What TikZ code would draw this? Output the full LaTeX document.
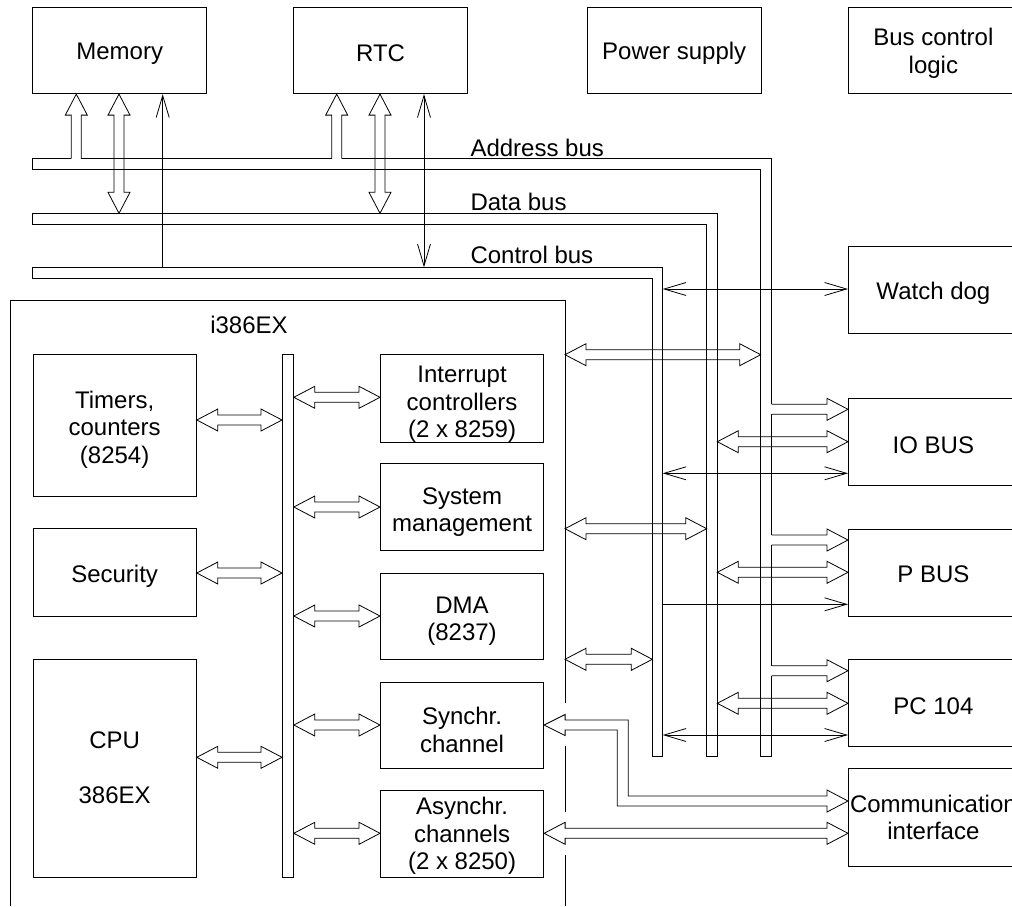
\documentclass[tikz,border=0pt]{standalone}
\usepackage{fontspec}
\setmainfont{Liberation Sans}
\usetikzlibrary{arrows.meta,calc}
\def\HL{21pt}\def\HW{11pt}\def\SW{5pt}
% horizontal hollow double arrow: tips at x of #1 and #2, at pixel row #3
\newcommand\hdbl[3]{%
 \draw[ln] let \p1=(#1), \p2=(#2) in
  (\x1,-#3pt) -- ({\x1+\HL},{-#3pt+\HW}) -- ({\x1+\HL},{-#3pt+\SW}) -- ({\x2-\HL},{-#3pt+\SW}) -- ({\x2-\HL},{-#3pt+\HW}) -- (\x2,-#3pt) -- ({\x2-\HL},{-#3pt-\HW}) -- ({\x2-\HL},{-#3pt-\SW}) -- ({\x1+\HL},{-#3pt-\SW}) -- ({\x1+\HL},{-#3pt-\HW}) -- cycle;}
% horizontal hollow single arrow: open tail at x of #1, tip at x of #2
\newcommand\hsgl[3]{%
 \draw[ln] let \p1=(#1), \p2=(#2) in
  (\x1,{-#3pt+\SW}) -- ({\x2-\HL},{-#3pt+\SW}) -- ({\x2-\HL},{-#3pt+\HW}) -- (\x2,-#3pt) -- ({\x2-\HL},{-#3pt-\HW}) -- ({\x2-\HL},{-#3pt-\SW}) -- (\x1,{-#3pt-\SW});}
% vertical hollow single arrow: open tail at y of #1, tip (up) at y of #2, column #3
\newcommand\vsgl[3]{%
 \draw[ln] let \p1=(#1), \p2=(#2) in
  ({#3pt-\SW},\y1) -- ({#3pt-\SW},{\y2-\HL}) -- ({#3pt-\HW},{\y2-\HL}) -- (#3pt,\y2) -- ({#3pt+\HW},{\y2-\HL}) -- ({#3pt+\SW},{\y2-\HL}) -- ({#3pt+\SW},\y1);}
% vertical hollow double arrow: top tip at y of #1, bottom tip at y of #2, column #3
\newcommand\vdbl[3]{%
 \draw[ln] let \p1=(#1), \p2=(#2) in
  (#3pt,\y1) -- ({#3pt+\HW},{\y1-\HL}) -- ({#3pt+\SW},{\y1-\HL}) -- ({#3pt+\SW},{\y2+\HL}) -- ({#3pt+\HW},{\y2+\HL}) -- (#3pt,\y2) -- ({#3pt-\HW},{\y2+\HL}) -- ({#3pt-\SW},{\y2+\HL}) -- ({#3pt-\SW},{\y1-\HL}) -- ({#3pt-\HW},{\y1-\HL}) -- cycle;}
% thin line arrow between x of #1 and x of #2 at row #3
\newcommand\hthin[4]{\draw[ln,#4] let \p1=(#1), \p2=(#2) in (\x1,-#3pt) -- (\x2,-#3pt);}
% text of a box, shifted down by #2 pixels
\newcommand\boxtext[3]{\node[txt,yshift=-#2pt] (#1-t) at (#1.center) {#3};}
\begin{document}
\begin{tikzpicture}[x=1pt,y=-1pt,
  every node/.style={font=\fontsize{24}{27.5}\selectfont},
  txt/.style={align=center,inner sep=0pt},
  ln/.style={line width=0.8pt,black},
  box/.style={draw,line width=0.8pt,inner sep=0pt,anchor=north west},
  tsg/.style={-{Straight Barb[length=22pt,width=13pt]}},
  tbi/.style={{Straight Barb[length=22pt,width=13pt]}-{Straight Barb[length=22pt,width=13pt]}}]
\useasboundingbox (0,0) rectangle (1012,906);
% top boxes
\node[box,minimum width=174pt,minimum height=86.6pt] (mem) at (32.3,6.7) {};
\node[box,minimum width=174.3pt,minimum height=86.6pt] (rtc) at (293,6.7) {};
\node[box,minimum width=174.3pt,minimum height=86.6pt] (psu) at (586.7,6.7) {};
\node[box,minimum width=170pt,minimum height=86.6pt] (bcl) at (848,6.7) {};
\boxtext{mem}{3}{Memory}
\boxtext{rtc}{3}{RTC}
\boxtext{psu}{3}{Power supply}
\boxtext{bcl}{3}{Bus control\\logic}
% right boxes
\node[box,minimum width=170pt,minimum height=87pt] (wd) at (848,246) {};
\node[box,minimum width=170pt,minimum height=86.7pt] (io) at (848,398.3) {};
\node[box,minimum width=170pt,minimum height=86.4pt] (pb) at (848,529.3) {};
\node[box,minimum width=170pt,minimum height=86.7pt] (pc) at (848,659.3) {};
\node[box,minimum width=170pt,minimum height=97.7pt] (com) at (848,768.3) {};
\boxtext{wd}{3}{Watch dog}
\boxtext{io}{3}{IO BUS}
\boxtext{pb}{1.5}{P BUS}
\boxtext{pc}{3}{PC 104}
\boxtext{com}{0}{Communication\\interface}
% i386EX internals
\node[box,minimum width=163.5pt,minimum height=142pt] (tim) at (32.5,354) {};
\node[box,minimum width=163.5pt,minimum height=88pt] (sec) at (32.5,528) {};
\node[box,minimum width=163.5pt,minimum height=218pt] (cpu) at (32.5,659) {};
\node[box,minimum width=11pt,minimum height=523pt] (bar) at (282,354) {};
\node[box,minimum width=163.3pt,minimum height=88pt] (int) at (380,354) {};
\node[box,minimum width=163.3pt,minimum height=87pt] (sys) at (380,463) {};
\node[box,minimum width=163.3pt,minimum height=86pt] (dma) at (380,573) {};
\node[box,minimum width=163.3pt,minimum height=86pt] (syn) at (380,682) {};
\node[box,minimum width=163.3pt,minimum height=87pt] (asy) at (380,790) {};
\boxtext{tim}{4}{Timers,\\counters\\(8254)}
\boxtext{sec}{4}{Security}
\boxtext{cpu}{-1}{CPU\\[27.5pt]386EX}
\boxtext{int}{6}{Interrupt\\controllers\\(2 x 8259)}
\boxtext{sys}{5}{System\\management}
\boxtext{dma}{5}{DMA\\(8237)}
\boxtext{syn}{4.5}{Synchr.\\channel}
\boxtext{asy}{2}{Asynchr.\\channels\\(2 x 8250)}
\node (lbl) at (249,325) {i386EX};
% i386EX outline (open at the bottom, gaps where arrows pass)
\draw[ln] (10.7,906) -- (10.7,300.7) -- (565,300.7) -- (565,703);
\draw[ln] (565,746) -- (565,812);
\draw[ln] (565,855) -- (565,906);
% bus reference coordinates
\coordinate (ab) at (0,158.7);
\coordinate (db) at (0,213.3);
\coordinate (cb) at (0,267.3);
\coordinate (abO) at (771.7,0);
\coordinate (abI) at (760.7,0);
\coordinate (dbO) at (717.3,0);
\coordinate (dbI) at (706.7,0);
\coordinate (cbO) at (662.7,0);
\coordinate (cbI) at (652.3,0);
\coordinate (iR) at (565,0);
% address bus
\draw[ln] (71.3,158.7) -- (32.3,158.7) -- (32.3,169.7) -- (760.7,169.7) -- (760.7,756.7) -- (771.7,756.7) -- (771.7,675.7);
\draw[ln] (81.3,158.7) -- (331.7,158.7);
\draw[ln] (341.7,158.7) -- (771.7,158.7) -- (771.7,404.3);
\draw[ln] (771.7,414.3) -- (771.7,535);
\draw[ln] (771.7,545) -- (771.7,665.7);
% data bus
\draw[ln] (32.3,213.3) -- (717.3,213.3) -- (717.3,756.7) -- (706.7,756.7) -- (706.7,224) -- (32.3,224) -- cycle;
% control bus
\draw[ln] (32.3,267.3) -- (662.7,267.3) -- (662.7,756.7) -- (652.3,756.7) -- (652.3,278.3) -- (32.3,278.3) -- cycle;
% bus labels
\node[anchor=base west] (la) at (467,156) {Address bus};
\node[anchor=base west] (ld) at (467,210) {Data bus};
\node[anchor=base west] (lc) at (467,263) {Control bus};
% memory / RTC connections
\vsgl{ab}{mem.south}{76.3}
\vdbl{mem.south}{db}{119}
\draw[ln,tsg] let \p1=(cb), \p2=(mem.south) in (162.7pt,\y1) -- (162.7pt,\y2);
\vsgl{ab}{rtc.south}{336.7}
\vdbl{rtc.south}{db}{380}
\draw[ln,tbi] let \p1=(cb), \p2=(rtc.south) in (424pt,\y1) -- (424pt,\y2);
% internal bus arrows
\hdbl{tim.east}{bar.west}{420}
\hdbl{sec.east}{bar.west}{573}
\hdbl{cpu.east}{bar.west}{757.3}
\hdbl{bar.east}{int.west}{397.3}
\hdbl{bar.east}{sys.west}{507}
\hdbl{bar.east}{dma.west}{616}
\hdbl{bar.east}{syn.west}{725}
\hdbl{bar.east}{asy.west}{833.3}
% i386EX to buses
\hdbl{iR}{abI}{354.7}
\hdbl{iR}{dbI}{528.7}
\hdbl{iR}{cbI}{659.3}
% buses to peripherals
\hthin{cbO}{wd.west}{289}{tbi}
\hsgl{abO}{io.west}{409.3}
\hdbl{dbO}{io.west}{441.7}
\hthin{cbO}{io.west}{473.3}{tbi}
\hsgl{abO}{pb.west}{540}
\hdbl{dbO}{pb.west}{572.3}
\hthin{cbO}{pb.west}{604.3}{tsg}
\hsgl{abO}{pc.west}{670.7}
\hdbl{dbO}{pc.west}{703.3}
\hthin{cbO}{pc.west}{735}{tbi}
% serial channels to communication interface
\draw[ln] let \p1=(syn.east), \p2=(com.west) in
 (\x1,-725pt) -- ({\x1+\HL},{-725pt+10.5pt}) -- ({\x1+\HL},-720pt) -- (628.3pt,-720pt) -- (628.3pt,-796pt) -- ({\x2-\HL},-796pt) -- ({\x2-\HL},{-801pt+\HW}) -- (\x2,-801pt) -- ({\x2-\HL},{-801pt-\HW}) -- ({\x2-\HL},-806pt) -- (617.3pt,-806pt) -- (617.3pt,-730pt) -- ({\x1+\HL},-730pt) -- ({\x1+\HL},{-725pt-10.5pt}) -- cycle;
\hdbl{asy.east}{com.west}{833.3}
\end{tikzpicture}
\end{document}
